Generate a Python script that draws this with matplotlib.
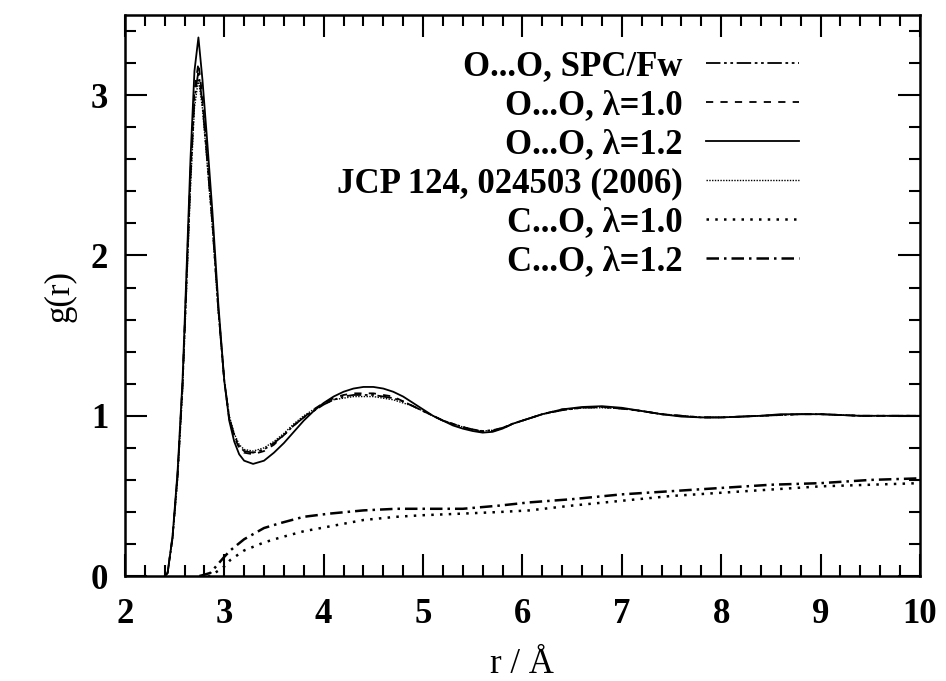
import matplotlib.pyplot as plt
from matplotlib.ticker import MultipleLocator

plt.rcParams['font.family'] = ['Liberation Serif', 'DejaVu Serif']
plt.rcParams['font.weight'] = 'bold'

# O...O curves
r_oo = [2.40, 2.43, 2.48, 2.53, 2.58, 2.62, 2.66, 2.70, 2.74, 2.78, 2.83, 2.88, 2.94, 3.00,
        3.05, 3.10, 3.15, 3.20, 3.29, 3.40, 3.50, 3.60, 3.70, 3.80, 3.90, 4.00, 4.10, 4.20,
        4.30, 4.40, 4.50, 4.60, 4.70, 4.80, 4.90, 5.00, 5.10, 5.20, 5.30, 5.40, 5.50, 5.60,
        5.70, 5.80, 5.90, 6.00, 6.20, 6.40, 6.60, 6.80, 7.00, 7.20, 7.40, 7.60, 7.80, 8.00,
        8.20, 8.40, 8.60, 8.80, 9.00, 9.20, 9.40, 9.60, 9.80, 10.00]
g_l12 = [0.00, 0.02, 0.25, 0.65, 1.22, 1.90, 2.60, 3.15, 3.36, 3.10, 2.70, 2.28, 1.70, 1.22,
         0.97, 0.84, 0.76, 0.72, 0.70, 0.72, 0.77, 0.83, 0.90, 0.97, 1.03, 1.08, 1.12, 1.15,
         1.17, 1.18, 1.18, 1.17, 1.15, 1.12, 1.08, 1.04, 1.00, 0.97, 0.94, 0.92, 0.905, 0.895,
         0.90, 0.92, 0.95, 0.97, 1.01, 1.04, 1.055, 1.06, 1.05, 1.03, 1.01, 0.995, 0.99, 0.99,
         0.995, 1.00, 1.01, 1.01, 1.01, 1.005, 1.00, 1.00, 1.00, 1.00]
g_spc = [0.00, 0.02, 0.24, 0.62, 1.18, 1.82, 2.48, 2.98, 3.15, 2.95, 2.58, 2.20, 1.66, 1.22,
         0.99, 0.88, 0.81, 0.78, 0.77, 0.79, 0.83, 0.88, 0.94, 0.99, 1.03, 1.07, 1.10, 1.12,
         1.13, 1.13, 1.13, 1.12, 1.11, 1.09, 1.06, 1.03, 1.00, 0.97, 0.95, 0.93, 0.915, 0.905,
         0.91, 0.925, 0.95, 0.97, 1.01, 1.035, 1.05, 1.055, 1.045, 1.03, 1.01, 1.00, 0.99, 0.99,
         0.995, 1.00, 1.005, 1.01, 1.01, 1.005, 1.00, 1.00, 1.00, 1.00]
g_l10 = [0.00, 0.02, 0.25, 0.63, 1.20, 1.85, 2.52, 3.03, 3.20, 2.99, 2.61, 2.22, 1.67, 1.22,
         0.98, 0.87, 0.80, 0.77, 0.76, 0.78, 0.82, 0.88, 0.94, 0.99, 1.04, 1.08, 1.11, 1.13,
         1.14, 1.14, 1.14, 1.13, 1.12, 1.09, 1.06, 1.03, 1.00, 0.97, 0.95, 0.93, 0.91, 0.90,
         0.905, 0.92, 0.95, 0.97, 1.01, 1.04, 1.05, 1.055, 1.045, 1.03, 1.01, 1.00, 0.99, 0.99,
         0.995, 1.00, 1.005, 1.01, 1.01, 1.005, 1.00, 1.00, 1.00, 1.00]
g_jcp = [0.00, 0.02, 0.23, 0.60, 1.15, 1.78, 2.42, 2.92, 3.10, 2.92, 2.56, 2.18, 1.65, 1.22,
         1.00, 0.89, 0.82, 0.79, 0.78, 0.80, 0.84, 0.89, 0.95, 1.00, 1.04, 1.07, 1.10, 1.11,
         1.12, 1.12, 1.12, 1.11, 1.10, 1.08, 1.06, 1.03, 1.00, 0.97, 0.95, 0.93, 0.915, 0.905,
         0.91, 0.925, 0.95, 0.97, 1.01, 1.035, 1.05, 1.05, 1.045, 1.03, 1.01, 1.00, 0.99, 0.99,
         0.995, 1.00, 1.005, 1.01, 1.01, 1.005, 1.00, 1.00, 1.00, 1.00]

# C...O curves
r_co = [2.75, 2.86, 3.00, 3.06, 3.20, 3.40, 3.56, 3.80, 4.06, 4.40, 4.73, 5.00, 5.40, 5.77,
        6.07, 6.50, 7.00, 7.50, 8.00, 8.50, 9.00, 9.50, 10.00]
g_co12 = [0.00, 0.02, 0.12, 0.16, 0.23, 0.30, 0.33, 0.37, 0.39, 0.41, 0.42, 0.42, 0.42, 0.44,
          0.46, 0.48, 0.51, 0.53, 0.55, 0.57, 0.58, 0.60, 0.61]
g_co10 = [0.00, 0.00, 0.06, 0.10, 0.16, 0.21, 0.24, 0.28, 0.31, 0.35, 0.37, 0.38, 0.39, 0.40,
          0.41, 0.44, 0.47, 0.50, 0.52, 0.54, 0.56, 0.57, 0.58]

fs = 25
fig = plt.figure(figsize=(9.46, 6.81), dpi=100)
ax = fig.add_axes([0.132, 0.154, 0.8405, 0.824])

lw = 1.3
ax.plot(r_oo, g_spc, color='black', lw=lw, ls=(0, (8, 2, 1.5, 2, 1.5, 2)), label='O...O, SPC/Fw')
ax.plot(r_oo, g_l10, color='black', lw=lw, ls=(0, (4, 4)), label='O...O, λ=1.0')
ax.plot(r_oo, g_l12, color='black', lw=lw, ls='-', label='O...O, λ=1.2')
ax.plot(r_oo, g_jcp, color='black', lw=1.0, ls=(0, (1, 1)), label='JCP 124, 024503 (2006)')
ax.plot(r_co, g_co10, color='black', lw=1.8, ls=(0, (1, 2.5)), label='C...O, λ=1.0')
ax.plot(r_co, g_co12, color='black', lw=1.8, ls=(0, (5, 2, 1, 2)), label='C...O, λ=1.2')

ax.set_xlim(2, 10)
ax.set_ylim(0, 3.5)
ax.xaxis.set_major_locator(MultipleLocator(1))
ax.xaxis.set_minor_locator(MultipleLocator(0.2))
ax.yaxis.set_major_locator(MultipleLocator(1))
ax.yaxis.set_minor_locator(MultipleLocator(0.2))
ax.tick_params(which='both', direction='in', top=True, right=True, width=1.5, labelsize=fs)
ax.tick_params(which='major', length=16, pad=12)
ax.tick_params(axis='x', which='major', pad=16)
ax.tick_params(which='minor', length=8)
for s in ax.spines.values():
    s.set_linewidth(1.8)

ax.set_xlabel('r / Å', fontsize=fs, labelpad=12)
ax.set_ylabel('g(r)', fontsize=fs, labelpad=10)

ax.legend(loc='upper right', bbox_to_anchor=(0.870, 0.968), frameon=False, markerfirst=False,
          fontsize=fs, handlelength=2.7, handletextpad=0.66, labelspacing=0.17, borderpad=0)

fig.savefig('out.png', dpi=100)
